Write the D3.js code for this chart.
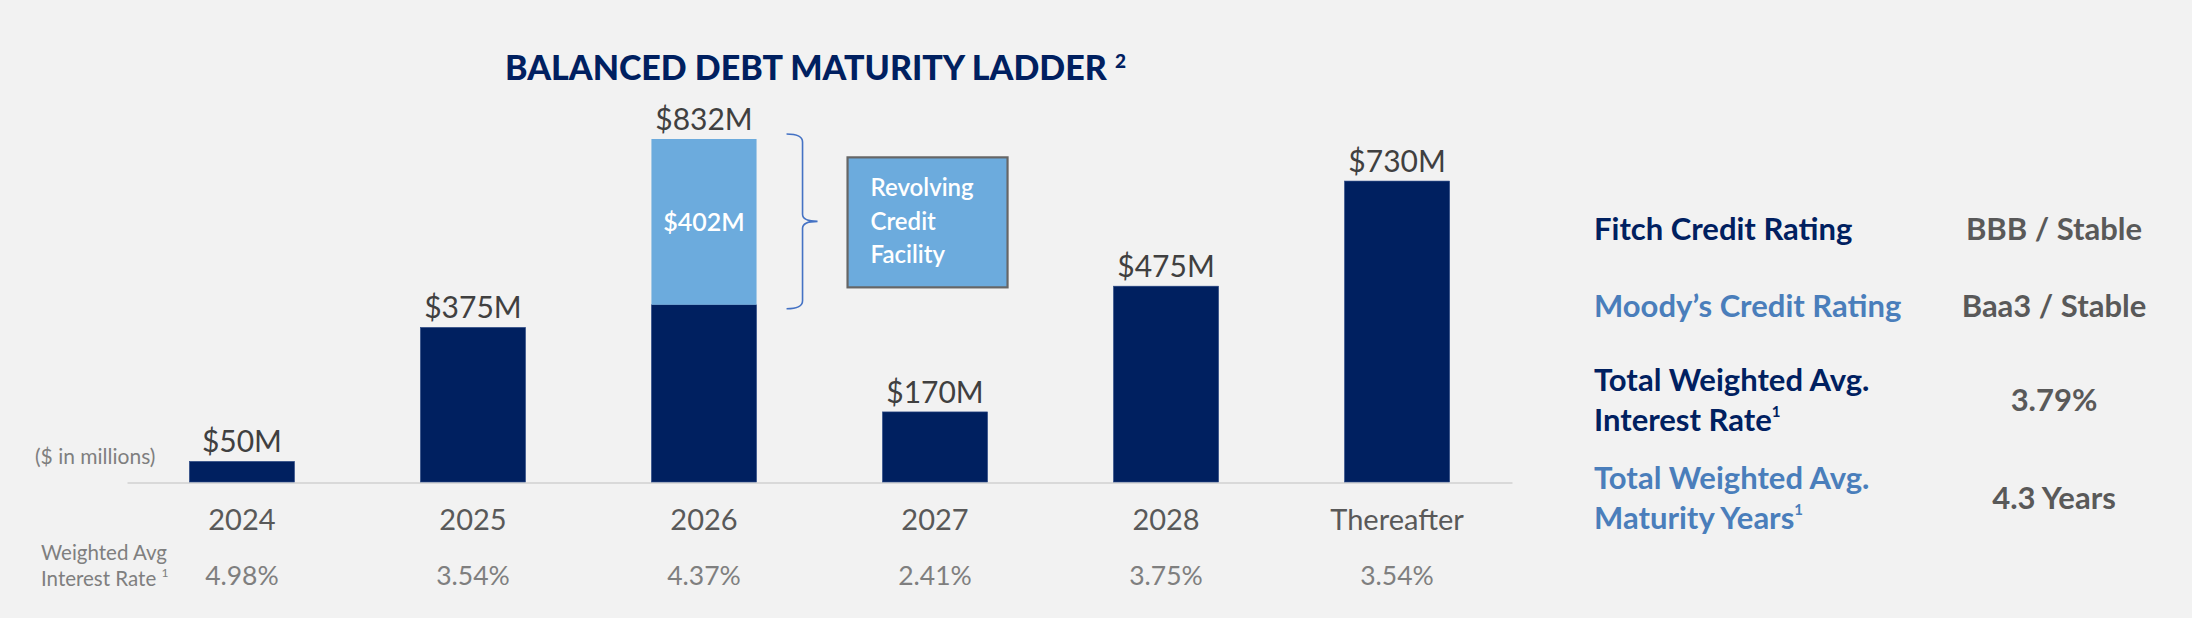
<!DOCTYPE html>
<html>
<head>
<meta charset="utf-8">
<script src="https://cdn.jsdelivr.net/npm/d3@7"></script>
<style>
  html, body { margin: 0; padding: 0; background: #f2f2f2; }
  svg { display: block; font-family: Lato, "Open Sans", sans-serif; }
</style>
</head>
<body>
<svg id="chart" width="2192" height="618"></svg>
<script>
// chart values
const categories = ["2024", "2025", "2026", "2027", "2028", "Thereafter"];
const termDebt = [50, 375, 430, 170, 475, 730];   // dark bars ($M)
const revolver = [0, 0, 402, 0, 0, 0];            // revolving credit facility ($M)
const rates = ["4.98%", "3.54%", "4.37%", "2.41%", "3.75%", "3.54%"];

const ratingNames = [
  ["Fitch Credit Rating"],
  ["Moody\u2019s Credit Rating"],
  ["Total Weighted Avg.", "Interest Rate"],
  ["Total Weighted Avg.", "Maturity Years"]
];
const ratingValues = ["BBB / Stable", "Baa3 / Stable", "3.79%", "4.3 Years"];
const ratingNotes = [false, false, true, true];   // footnote 1 on last line

const NAVY = "#002060", LIGHT = "#6cabdd", STEEL = "#4a7ebb";

const svg = d3.select("#chart");
svg.append("rect").attr("width", 2192).attr("height", 618).attr("fill", "#f2f2f2");

const rows = categories.map((c, i) => ({
  cat: c, base: termDebt[i], rcf: revolver[i], total: termDebt[i] + revolver[i], rate: rates[i]
}));

const x = d3.scaleBand()
  .domain(categories)
  .range([127, 1512])
  .paddingInner(0.545)
  .paddingOuter(0.27);

const y = d3.scaleLinear()
  .domain([0, d3.max(rows, d => d.total)])
  .range([482, 139]);

const bw = x.bandwidth();

// title
const title = svg.append("text")
  .attr("x", 505).attr("y", 80)
  .attr("fill", NAVY)
  .style("font-size", "34px").style("font-weight", 900)
  .text("BALANCED DEBT MATURITY LADDER ");
title.append("tspan")
  .attr("dy", -12).style("font-size", "19px")
  .text("2");

// axis (gray baseline + year labels)
const xAxis = d3.axisBottom(x).tickSize(0).tickPadding(27);
const gx = svg.append("g")
  .attr("transform", `translate(0,${y(0) + 0.5})`)
  .call(xAxis);
gx.select(".domain").attr("stroke", "#d9d9d9").attr("stroke-width", 2);
gx.selectAll("text")
  .attr("fill", "#595959")
  .style("font-size", "29px")
  .style("font-family", "Lato, sans-serif");

// bars
svg.append("g").selectAll("rect.base")
  .data(rows)
  .join("rect")
  .attr("class", "base")
  .attr("x", d => x(d.cat))
  .attr("width", bw)
  .attr("y", d => y(d.base))
  .attr("height", d => y(0) - y(d.base))
  .attr("fill", NAVY)
  .attr("stroke", "#2c4a86").attr("stroke-width", 0.6);

svg.append("g").selectAll("rect.rcf")
  .data(rows.filter(d => d.rcf > 0))
  .join("rect")
  .attr("class", "rcf")
  .attr("x", d => x(d.cat))
  .attr("width", bw)
  .attr("y", d => y(d.total))
  .attr("height", d => y(d.base) - y(d.total))
  .attr("fill", LIGHT);

// inner label of the revolver segment
svg.append("g").selectAll("text")
  .data(rows.filter(d => d.rcf > 0))
  .join("text")
  .attr("x", d => x(d.cat) + bw / 2)
  .attr("y", d => (y(d.base) + y(d.total)) / 2 + 9)
  .attr("text-anchor", "middle")
  .attr("fill", "#fff")
  .style("font-size", "25px").style("font-weight", 600)
  .text(d => `$${d.rcf}M`);

// total labels
svg.append("g").selectAll("text")
  .data(rows)
  .join("text")
  .attr("x", d => x(d.cat) + bw / 2)
  .attr("y", d => y(d.total) - 9)
  .attr("text-anchor", "middle")
  .attr("fill", "#404040")
  .style("font-size", "30px")
  .text(d => `$${d.total}M`);

// brace + callout box next to the revolver
const rc = rows.find(d => d.rcf > 0);
const bTop = y(rc.total) - 5, bBot = y(rc.base) + 4, bMid = (bTop + bBot) / 2;
const xL = x(rc.cat) + bw + 30, xV = xL + 16, xT = xL + 31;
svg.append("path")
  .attr("d", `M${xL},${bTop} Q${xV},${bTop} ${xV},${bTop + 8} L${xV},${bMid - 7}
    Q${xV},${bMid} ${xT},${bMid} Q${xV},${bMid} ${xV},${bMid + 7}
    L${xV},${bBot - 8} Q${xV},${bBot} ${xL},${bBot}`)
  .attr("fill", "none")
  .attr("stroke", "#4472c4")
  .attr("stroke-width", 1.6);

const boxX = xL + 61, boxY = bMid - 64;
svg.append("rect")
  .attr("x", boxX).attr("y", boxY)
  .attr("width", 160).attr("height", 130)
  .attr("fill", LIGHT)
  .attr("stroke", "#666").attr("stroke-width", 2.2);
svg.append("g").selectAll("text")
  .data(["Revolving", "Credit", "Facility"])
  .join("text")
  .attr("x", boxX + 23)
  .attr("y", (d, i) => boxY + 39 + i * 33.5)
  .attr("fill", "#fff")
  .style("font-size", "24px").style("font-weight", 600)
  .text(d => d);

// unit note
svg.append("text")
  .attr("x", 35).attr("y", 464)
  .attr("fill", "#7f7f7f")
  .style("font-size", "21px")
  .text("($ in millions)");

// weighted avg interest rate row
const wl = svg.append("g").attr("fill", "#7f7f7f").style("font-size", "20.5px");
wl.append("text").attr("x", 41).attr("y", 560).text("Weighted Avg");
const ir = wl.append("text").attr("x", 41).attr("y", 585.5).text("Interest Rate ");
ir.append("tspan").attr("dy", -9).style("font-size", "12px").text("1");

svg.append("g").selectAll("text")
  .data(rows)
  .join("text")
  .attr("x", d => x(d.cat) + bw / 2)
  .attr("y", 585)
  .attr("text-anchor", "middle")
  .attr("fill", "#7f7f7f")
  .style("font-size", "26.5px")
  .text(d => d.rate);

// ratings panel
const rowBase = [240, 317, 391, 489];
const panel = svg.append("g");
ratingNames.forEach((lines, i) => {
  const col = i % 2 === 0 ? NAVY : STEEL;
  lines.forEach((ln, j) => {
    const t = panel.append("text")
      .attr("x", 1594).attr("y", rowBase[i] + j * 40)
      .attr("fill", col)
      .style("font-size", "31px").style("font-weight", 700)
      .text(ln);
    if (ratingNotes[i] && j === lines.length - 1) {
      t.append("tspan").attr("dy", -14).style("font-size", "15px").text("1");
    }
  });
  panel.append("text")
    .attr("x", 2054)
    .attr("y", rowBase[i] + (lines.length - 1) * 20)
    .attr("text-anchor", "middle")
    .attr("fill", "#595959")
    .style("font-size", "31px").style("font-weight", 700)
    .text(ratingValues[i]);
});
</script>
</body>
</html>
